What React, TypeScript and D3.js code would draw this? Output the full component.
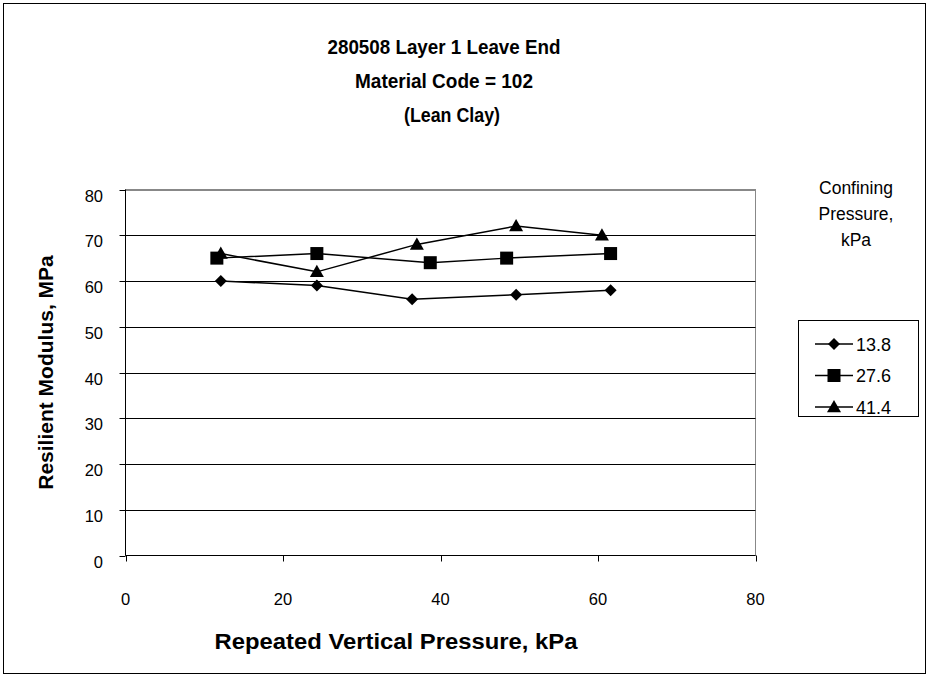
import React from "react";
import * as d3 from "d3";

const xValues13 = [12.1, 24.3, 36.4, 49.6, 61.6];
const yValues13 = [60, 59, 56, 57, 58];
const xValues27 = [11.6, 24.3, 38.7, 48.4, 61.6];
const yValues27 = [65, 66, 64, 65, 66];
const xValues41 = [12.1, 24.3, 37.0, 49.6, 60.5];
const yValues41 = [66, 62, 68, 72, 70];
const seriesNames = ["13.8", "27.6", "41.4"];
const xTicks = [0, 20, 40, 60, 80];
const yTicks = [0, 10, 20, 30, 40, 50, 60, 70, 80];
const titleLines = ["280508 Layer 1 Leave End", "Material Code = 102", "(Lean Clay)"];
const legendTitle = ["Confining", "Pressure,", "kPa"];

const W = 930;
const H = 677;
const plot = { left: 125.5, right: 755.5, top: 189.5, bottom: 555.5 };
const font = "Arial, 'Liberation Sans', Helvetica, sans-serif";
const titleWidths = [233, 178, 96];

function Marker({ type, x, y }: { type: string; x: number; y: number }) {
  if (type === "diamond") {
    const s = 6;
    return <path d={`M${x},${y - s}L${x + s},${y}L${x},${y + s}L${x - s},${y}Z`} fill="#000" />;
  }
  if (type === "square") {
    const s = 6.5;
    return <rect x={x - s} y={y - s} width={2 * s} height={2 * s} fill="#000" />;
  }
  const s = 7;
  return <path d={`M${x},${y - s}L${x + s},${y + s * 0.75}L${x - s},${y + s * 0.75}Z`} fill="#000" />;
}

export default function App() {
  const x = d3.scaleLinear().domain([0, 80]).range([plot.left, plot.right]);
  const y = d3.scaleLinear().domain([0, 80]).range([plot.bottom, plot.top]);
  const series = [
    { name: seriesNames[0], xs: xValues13, ys: yValues13, marker: "diamond" },
    { name: seriesNames[1], xs: xValues27, ys: yValues27, marker: "square" },
    { name: seriesNames[2], xs: xValues41, ys: yValues41, marker: "triangle" },
  ];
  const line = d3
    .line<[number, number]>()
    .x((d) => x(d[0]))
    .y((d) => y(d[1]));

  return (
    <div style={{ position: "absolute", left: 0, top: 0 }}>
      <svg width={W} height={H} style={{ display: "block", fontFamily: font }}>
        <rect x={0} y={0} width={W} height={H} fill="#fff" />
        <rect x={3.5} y={3.5} width={922} height={670} fill="none" stroke="#000" strokeWidth={1} />
        {titleLines.map((t, i) => (
          <text
            key={t}
            x={i === 2 ? 452 : 444}
            y={53.5 + i * 34}
            textAnchor="middle"
            fontWeight="bold"
            fontSize={20.5}
            textLength={titleWidths[i]}
            lengthAdjust="spacingAndGlyphs"
          >
            {t}
          </text>
        ))}
        {/* plot frame */}
        <rect
          x={plot.left}
          y={plot.top}
          width={plot.right - plot.left}
          height={plot.bottom - plot.top}
          fill="none"
          stroke="#888"
          strokeWidth={1}
        />
        {yTicks
          .filter((t) => t > 0)
          .map((t) => (
            <line
              key={"g" + t}
              x1={plot.left}
              x2={plot.right}
              y1={Math.round(y(t)) + 0.5}
              y2={Math.round(y(t)) + 0.5}
              stroke={t === 80 ? "#888" : "#000"}
              strokeWidth={1}
            />
          ))}
        {/* axes */}
        <line x1={plot.left} x2={plot.left} y1={plot.top} y2={plot.bottom} stroke="#000" />
        <line x1={plot.left} x2={plot.right} y1={plot.bottom} y2={plot.bottom} stroke="#000" />
        {yTicks.map((t) => (
          <g key={"y" + t}>
            <line
              x1={plot.left - 6}
              x2={plot.left}
              y1={Math.round(y(t)) + 0.5}
              y2={Math.round(y(t)) + 0.5}
              stroke="#000"
            />
            <text x={103} y={y(t) + 12} textAnchor="end" fontSize={16.5}>
              {t}
            </text>
          </g>
        ))}
        {xTicks.map((t) => (
          <g key={"x" + t}>
            <line
              x1={Math.round(x(t)) + 0.5}
              x2={Math.round(x(t)) + 0.5}
              y1={plot.bottom}
              y2={plot.bottom + 6}
              stroke="#000"
            />
            <text x={x(t)} y={605} textAnchor="middle" fontSize={16.5}>
              {t}
            </text>
          </g>
        ))}
        <text
          x={396}
          y={649}
          textAnchor="middle"
          fontWeight="bold"
          fontSize={22}
          textLength={363}
          lengthAdjust="spacingAndGlyphs"
        >
          Repeated Vertical Pressure, kPa
        </text>
        <text
          transform={`translate(53,${(plot.top + plot.bottom) / 2}) rotate(-90)`}
          textAnchor="middle"
          fontWeight="bold"
          fontSize={21}
        >
          Resilient Modulus, MPa
        </text>
        {/* series */}
        {series.map((s) => {
          const pts = s.xs.map((xv, i) => [xv, s.ys[i]] as [number, number]);
          return (
            <g key={s.name}>
              <path d={line(pts) || ""} fill="none" stroke="#000" strokeWidth={1.5} />
              {pts.map((p, i) => (
                <Marker key={i} type={s.marker} x={x(p[0])} y={y(p[1])} />
              ))}
            </g>
          );
        })}
        {/* legend */}
        {legendTitle.map((t, i) => (
          <text key={t} x={856} y={194 + i * 26} textAnchor="middle" fontSize={17.5}>
            {t}
          </text>
        ))}
        <rect x={798.5} y={320.5} width={120} height={96} fill="#fff" stroke="#000" />
        {series.map((s, i) => {
          const ly = 344 + i * 31.5;
          return (
            <g key={"l" + s.name}>
              <line x1={815} x2={853} y1={ly} y2={ly} stroke="#000" strokeWidth={1.5} />
              <Marker type={s.marker} x={834} y={ly} />
              <text x={856} y={ly + 6.5} fontSize={18}>
                {s.name}
              </text>
            </g>
          );
        })}
      </svg>
    </div>
  );
}
